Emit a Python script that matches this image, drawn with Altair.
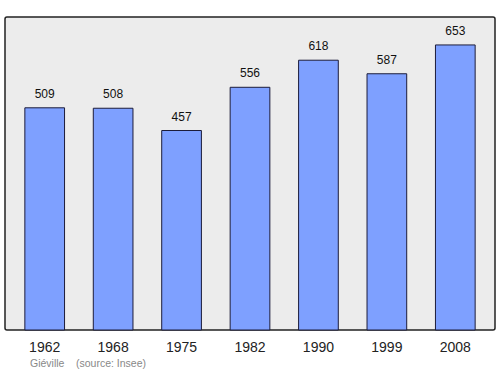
import altair as alt
import pandas as pd

years = ["1962", "1968", "1975", "1982", "1990", "1999", "2008"]
population = [509, 508, 457, 556, 618, 587, 653]

df = pd.DataFrame({"year": years, "pop": population})

FONT = "Liberation Sans"

base = alt.Chart(df).encode(
    x=alt.X("year:N", sort=years,
            scale=alt.Scale(paddingInner=0.42, paddingOuter=0.29),
            axis=alt.Axis(title=None, labelAngle=0, ticks=False, domain=False,
                          labelFontSize=14, labelColor="#222222", labelPadding=10,
                          labelFont=FONT)),
    y=alt.Y("pop:Q", scale=alt.Scale(domain=[0, 717], nice=False, zero=True),
            axis=None),
)

bars = base.mark_bar(color="#7ea0ff", stroke="#1c1c3a", strokeWidth=1)
labels = base.mark_text(baseline="bottom", dy=-7, fontSize=12, font=FONT,
                        color="#111111").encode(text="pop:Q")

footer1 = alt.Chart(pd.DataFrame({"t": ["Giéville"]})).mark_text(
    align="left", baseline="middle", fontSize=10.5, font=FONT, color="#888888"
).encode(x=alt.value(25), y=alt.value(347), text="t:N")
footer2 = alt.Chart(pd.DataFrame({"t": ["(source: Insee)"]})).mark_text(
    align="left", baseline="middle", fontSize=10.5, font=FONT, color="#888888"
).encode(x=alt.value(71), y=alt.value(347), text="t:N")

chart = alt.layer(bars, labels, footer1, footer2).properties(
    width=490, height=313,
    padding={"left": 5, "top": 17, "right": 5, "bottom": 44},
    autosize=alt.AutoSizeParams(type="none"),
    background="white",
).configure_view(
    fill="#ececec", stroke="#222222", strokeWidth=1.5, cornerRadius=2
)

chart.save("out.html", embed_options={"renderer": "svg", "actions": False})
